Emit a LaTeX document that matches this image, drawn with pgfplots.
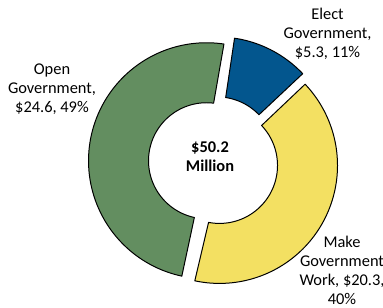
\documentclass[border=0pt]{standalone}
\usepackage{pgfplots}
\pgfplotsset{compat=1.18}
\usepackage{fontspec}
\setmainfont{Carlito}
\definecolor{cgreen}{RGB}{99,142,96}
\definecolor{cblue}{RGB}{3,86,142}
\definecolor{cyellow}{RGB}{243,224,98}
% data (million $)
\def\vElect{5.3}
\def\vMake{20.3}
\def\vOpen{24.6}
\pgfmathsetmacro\tot{\vElect+\vMake+\vOpen}
\pgfmathsetmacro\aA{81.5}
\pgfmathsetmacro\aB{\aA-360*\vElect/\tot}
\pgfmathsetmacro\aC{\aB-360*\vMake/\tot}
\pgfmathsetmacro\aD{\aC-360*\vOpen/\tot}
\def\cx{213.4}\def\cy{146}\def\Ro{118}\def\Ri{58}
\newcommand\slice[4]{%
 \pgfmathsetmacro\mA{(#2+#3)/2}%
 \pgfmathsetmacro\ox{\cx+#4*cos(\mA)}%
 \pgfmathsetmacro\oy{\cy+#4*sin(\mA)}%
 \addplot[fill=#1, draw=black, line width=1pt, line join=round, domain=0:2, samples=241, variable=\t]
  ({\ox+ifthenelse(\t<=1,\Ro,\Ri)*cos(ifthenelse(\t<=1,#2+(#3-#2)*\t,#3+(#2-#3)*(\t-1)))},
   {\oy+ifthenelse(\t<=1,\Ro,\Ri)*sin(ifthenelse(\t<=1,#2+(#3-#2)*\t,#3+(#2-#3)*(\t-1)))}) -- cycle;
}
\begin{document}
\begin{tikzpicture}
\begin{axis}[width=383bp, height=308bp, scale only axis, xmin=0, xmax=383, ymin=0, ymax=308, hide axis, clip=false]
\slice{cblue}{\aA}{\aB}{8}
\slice{cyellow}{\aB}{\aC}{7}
\slice{cgreen}{\aC}{\aD}{7}
\coordinate (bl) at (axis cs:0,0);
\coordinate (tr) at (axis cs:383,308);
\begin{scope}[every node/.style={font=\fontsize{16.4bp}{19bp}\selectfont, align=center, inner sep=0pt}]
\node at (axis cs:327.5,274.5) {Elect\\Government,\\\$5.3, 11\%};
\node at (axis cs:52,218.5) {Open\\Government,\\\$24.6, 49\%};
\node at (axis cs:342,38) {Make\\Government\\Work, \$20.3,\\40\%};
\node[font=\fontsize{16.4bp}{19bp}\selectfont\bfseries] at (axis cs:210,151.5) {\$50.2\\Million};
\end{scope}
\end{axis}
\pgfresetboundingbox
\path (bl) rectangle (tr);
\end{tikzpicture}
\end{document}
